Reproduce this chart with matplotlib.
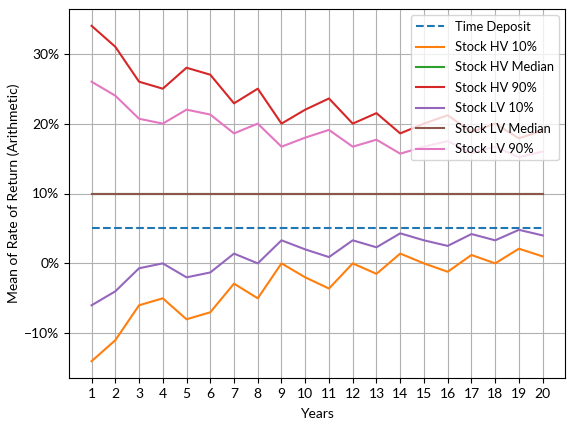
import matplotlib
matplotlib.use("Agg")
import matplotlib.pyplot as plt
from matplotlib.ticker import PercentFormatter

plt.rcParams['font.family'] = ['Lato', 'DejaVu Sans']

# dados (em %)
years = list(range(1, 21))
time_deposit = [5.0] * 20
hv_10 = [-14, -11, -6, -5, -8, -7, -2.9, -5, 0, -2, -3.6, 0, -1.5, 1.4, 0, -1.2, 1.2, 0, 2.1, 1.0]
hv_median = [10.0] * 20
hv_90 = [34, 31, 26, 25, 28, 27, 22.9, 25, 20, 22, 23.6, 20, 21.5, 18.6, 20, 21.2, 18.8, 20, 17.9, 19.0]
lv_10 = [-6, -4, -0.7, 0, -2, -1.3, 1.4, 0, 3.3, 2, 0.9, 3.3, 2.3, 4.3, 3.3, 2.5, 4.2, 3.3, 4.8, 4.0]
lv_median = [10.0] * 20
lv_90 = [26, 24, 20.7, 20, 22, 21.3, 18.6, 20, 16.7, 18, 19.1, 16.7, 17.7, 15.7, 16.7, 17.5, 15.8, 16.7, 15.2, 16.0]

fig = plt.figure(figsize=(5.75, 4.3), dpi=100)
ax = fig.add_axes([0.12, 0.121, 0.863, 0.858])

ax.plot(years, time_deposit, '--', label='Time Deposit')
ax.plot(years, hv_10, label='Stock HV 10%')
ax.plot(years, hv_median, label='Stock HV Median')
ax.plot(years, hv_90, label='Stock HV 90%')
ax.plot(years, lv_10, label='Stock LV 10%')
ax.plot(years, lv_median, label='Stock LV Median')
ax.plot(years, lv_90, label='Stock LV 90%')

ax.set_xticks(years)
ax.yaxis.set_major_formatter(PercentFormatter(100, decimals=0))
ax.set_xlabel('Years', labelpad=6)
ax.set_ylabel('Mean of Rate of Return (Arithmetic)', labelpad=3)
ax.grid(True)
ax.legend(loc='upper right', fontsize=9.3, handlelength=2.2, labelspacing=0.65)

fig.savefig('out.png', dpi=100)
